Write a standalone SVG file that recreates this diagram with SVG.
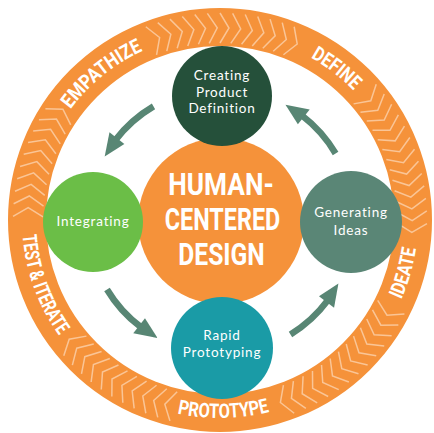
<svg xmlns="http://www.w3.org/2000/svg" width="434" height="433" viewBox="0 0 434 433">
<style>
.ring{fill:none;stroke:#F5923A;stroke-width:38}
.chev{fill:none;stroke:#FAC596;stroke-width:1.5;stroke-linejoin:miter}
.lbl{font-family:Roboto,"Liberation Sans",sans-serif;font-weight:700;font-size:20px;fill:#fff}
.big{font-family:Roboto,"Liberation Sans",sans-serif;font-weight:700;font-size:32px;fill:#fff;text-anchor:middle}
.nt{font-family:Lato,"Liberation Sans",sans-serif;font-size:13.5px;fill:#fff;text-anchor:middle;letter-spacing:0.8px}
.arr{fill:#588674}
.shaft{fill:none;stroke:#588674;stroke-width:6.5}
</style>
<defs>
<path id="chev" class="chev" d="M220,13 L229,28 L220,43"/>
<path id="pEmp" d="M69.5,110.7 A186,186 0 0 1 144.4,50.1"/>
<path id="pDef" d="M310.2,57.3 A186,186 0 0 1 353.8,90.8"/>
<path id="pIde" d="M400.9,300.5 A198,198 0 0 0 416.1,247.6"/>
<path id="pPro" d="M177.1,413.3 A198,198 0 0 0 269.6,411.7"/>
<path id="pTest" d="M22.5,233.8 A198,198 0 0 0 59.8,336.4"/>
<g id="arrow">
<path class="shaft" d="M255.42,92.53 A133,133 0 0 0 204.79,88.99"/>
<path class="arr" d="M208.09,98.18 L206.10,79.28 L185.46,92.84 Z"/>
</g>
</defs>

<g id="ring">
<circle class="ring" cx="220" cy="220" r="193"/>
<g id="chevrons">
<use href="#chev" transform="rotate(339 220 220)"/><use href="#chev" transform="rotate(342.5 220 220)"/><use href="#chev" transform="rotate(346 220 220)"/><use href="#chev" transform="rotate(349.5 220 220)"/><use href="#chev" transform="rotate(353 220 220)"/><use href="#chev" transform="rotate(356.5 220 220)"/><use href="#chev" transform="rotate(0 220 220)"/><use href="#chev" transform="rotate(3.5 220 220)"/><use href="#chev" transform="rotate(7 220 220)"/><use href="#chev" transform="rotate(10.5 220 220)"/><use href="#chev" transform="rotate(14 220 220)"/><use href="#chev" transform="rotate(17.5 220 220)"/><use href="#chev" transform="rotate(21 220 220)"/>
<use href="#chev" transform="rotate(49 220 220)"/><use href="#chev" transform="rotate(52.5 220 220)"/><use href="#chev" transform="rotate(56 220 220)"/><use href="#chev" transform="rotate(59.5 220 220)"/><use href="#chev" transform="rotate(63 220 220)"/><use href="#chev" transform="rotate(66.5 220 220)"/><use href="#chev" transform="rotate(70 220 220)"/><use href="#chev" transform="rotate(73.5 220 220)"/><use href="#chev" transform="rotate(77 220 220)"/><use href="#chev" transform="rotate(80.5 220 220)"/><use href="#chev" transform="rotate(84 220 220)"/><use href="#chev" transform="rotate(87.5 220 220)"/><use href="#chev" transform="rotate(91 220 220)"/>
<use href="#chev" transform="rotate(117 220 220)"/><use href="#chev" transform="rotate(120.5 220 220)"/><use href="#chev" transform="rotate(124 220 220)"/><use href="#chev" transform="rotate(127.5 220 220)"/><use href="#chev" transform="rotate(131 220 220)"/><use href="#chev" transform="rotate(134.5 220 220)"/><use href="#chev" transform="rotate(138 220 220)"/><use href="#chev" transform="rotate(141.5 220 220)"/><use href="#chev" transform="rotate(145 220 220)"/><use href="#chev" transform="rotate(148.5 220 220)"/><use href="#chev" transform="rotate(152 220 220)"/><use href="#chev" transform="rotate(155.5 220 220)"/><use href="#chev" transform="rotate(159 220 220)"/>
<use href="#chev" transform="rotate(194 220 220)"/><use href="#chev" transform="rotate(197.5 220 220)"/><use href="#chev" transform="rotate(201 220 220)"/><use href="#chev" transform="rotate(204.5 220 220)"/><use href="#chev" transform="rotate(208 220 220)"/><use href="#chev" transform="rotate(211.5 220 220)"/><use href="#chev" transform="rotate(215 220 220)"/><use href="#chev" transform="rotate(218.5 220 220)"/><use href="#chev" transform="rotate(222 220 220)"/><use href="#chev" transform="rotate(225.5 220 220)"/><use href="#chev" transform="rotate(229 220 220)"/>
<use href="#chev" transform="rotate(271 220 220)"/><use href="#chev" transform="rotate(274.5 220 220)"/><use href="#chev" transform="rotate(278 220 220)"/><use href="#chev" transform="rotate(281.5 220 220)"/><use href="#chev" transform="rotate(285 220 220)"/><use href="#chev" transform="rotate(288.5 220 220)"/><use href="#chev" transform="rotate(292 220 220)"/><use href="#chev" transform="rotate(295.5 220 220)"/><use href="#chev" transform="rotate(299 220 220)"/><use href="#chev" transform="rotate(302.5 220 220)"/>
</g>
<text class="lbl"><textPath href="#pEmp" startOffset="50%" text-anchor="middle" textLength="94" lengthAdjust="spacingAndGlyphs">EMPATHIZE</textPath></text>
<text class="lbl"><textPath href="#pDef" startOffset="50%" text-anchor="middle" textLength="54" lengthAdjust="spacingAndGlyphs">DEFINE</textPath></text>
<text class="lbl"><textPath href="#pIde" startOffset="50%" text-anchor="middle" textLength="53" lengthAdjust="spacingAndGlyphs">IDEATE</textPath></text>
<text class="lbl"><textPath href="#pPro" startOffset="50%" text-anchor="middle" textLength="93" lengthAdjust="spacingAndGlyphs">PROTOTYPE</textPath></text>
<text class="lbl"><textPath href="#pTest" startOffset="50%" text-anchor="middle" textLength="108" lengthAdjust="spacingAndGlyphs">TEST &amp; ITERATE</textPath></text>
</g>

<g id="center">
<circle cx="221" cy="221" r="83" fill="#F5923A"/>
<text class="big" transform="translate(221 195) scale(0.82 1)">HUMAN-</text>
<text class="big" transform="translate(222.5 230) scale(0.73 1)">CENTERED</text>
<text class="big" transform="translate(221.5 265) scale(0.77 1)">DESIGN</text>
</g>

<g id="connectors">
<use href="#arrow" transform="rotate(314.5 221 221)"/>
<use href="#arrow" transform="rotate(44.5 221 221)"/>
<use href="#arrow" transform="rotate(133.5 221 221)"/>
<use href="#arrow" transform="rotate(224 221 221)"/>
</g>

<g id="creating">
<circle cx="222" cy="96" r="50" fill="#25503A"/>
<text class="nt" x="222" y="80">Creating</text>
<text class="nt" x="222" y="96.5">Product</text>
<text class="nt" x="222" y="113">Definition</text>
</g>
<g id="integrating">
<circle cx="93" cy="222" r="50" fill="#6BBE47"/>
<text class="nt" x="93" y="226">Integrating</text>
</g>
<g id="generating">
<circle cx="351" cy="222" r="51" fill="#5A8676"/>
<text class="nt" x="351" y="217">Generating</text>
<text class="nt" x="351" y="235">Ideas</text>
</g>
<g id="rapid">
<circle cx="222" cy="348" r="51" fill="#1A9BA6"/>
<text class="nt" x="222" y="340">Rapid</text>
<text class="nt" x="222" y="357">Prototyping</text>
</g>
</svg>
